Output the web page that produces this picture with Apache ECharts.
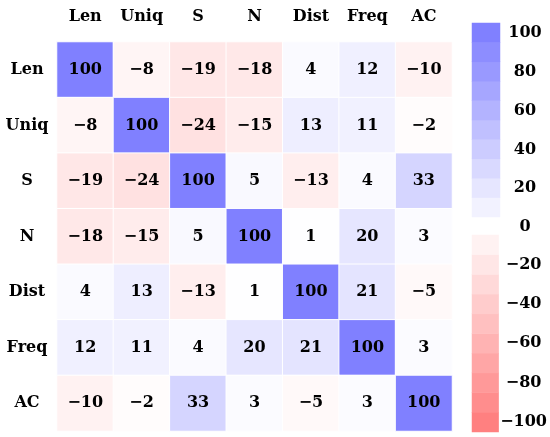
<!DOCTYPE html>
<html>
<head>
<meta charset="utf-8">
<style>
    html, body {margin: 0; padding: 0; background: #fff;}
    #main {width: 550px; height: 437px;}
</style>
<script src="https://cdn.jsdelivr.net/npm/echarts@6/dist/echarts.min.js"></script>
</head>
<body>
<div id="main"></div>
<script>
    // 变量名
    var names = ['Len', 'Uniq', 'S', 'N', 'Dist', 'Freq', 'AC'];
    // 相关系数 (x100)，按行
    var rowLen = [100, -8, -19, -18, 4, 12, -10];
    var rowUniq = [-8, 100, -24, -15, 13, 11, -2];
    var rowS = [-19, -24, 100, 5, -13, 4, 33];
    var rowN = [-18, -15, 5, 100, 1, 20, 3];
    var rowDist = [4, 13, -13, 1, 100, 21, -5];
    var rowFreq = [12, 11, 4, 20, 21, 100, 3];
    var rowAC = [-10, -2, 33, 3, -5, 3, 100];
    var matrix = [rowLen, rowUniq, rowS, rowN, rowDist, rowFreq, rowAC];
    // 色条分段
    var posBins = [10, 20, 30, 40, 50, 60, 70, 80, 90, 100];
    var negBins = [-100, -90, -80, -70, -60, -50, -40, -30, -20, -10];
    var posTicks = [0, 20, 40, 60, 80, 100];
    var negTicks = [-100, -80, -60, -40, -20, 0];

    var font = 'DejaVu Serif';
    var fontSize = 16;

    function fmt(v) {
        return v < 0 ? '\u2212' + Math.abs(v) : String(v);
    }

    var cells = [];
    matrix.forEach(function (row, r) {
        row.forEach(function (v, c) {
            cells.push([c, r, v]);
        });
    });

    var myChart = echarts.init(document.getElementById('main'));
    myChart.setOption({
        animation: false,
        grid: [
            {left: 57, top: 42, width: 395, height: 389},
            {left: 472, top: 23, width: 28, height: 194},
            {left: 472, top: 235, width: 28, height: 197}
        ],
        xAxis: [
            {
                type: 'category', gridIndex: 0, position: 'top', data: names,
                axisLine: {show: false}, axisTick: {show: false}, splitLine: {show: false},
                axisLabel: {margin: 17, color: '#000', fontFamily: font, fontWeight: 'bold', fontSize: fontSize}
            },
            {type: 'category', gridIndex: 1, data: ['c'], show: false},
            {type: 'category', gridIndex: 2, data: ['c'], show: false}
        ],
        yAxis: [
            {
                type: 'category', gridIndex: 0, data: names, inverse: true,
                axisLine: {show: false}, axisTick: {show: false}, splitLine: {show: false},
                axisLabel: {margin: 30, align: 'center', color: '#000', fontFamily: font, fontWeight: 'bold', fontSize: fontSize}
            },
            {type: 'category', gridIndex: 1, data: posBins, show: false},
            {type: 'category', gridIndex: 2, data: negBins, show: false},
            {
                type: 'value', gridIndex: 1, min: 0, max: 100, interval: 20, position: 'right',
                axisLine: {show: false}, axisTick: {show: false}, splitLine: {show: false},
                axisLabel: {
                    margin: 25, align: 'center', verticalAlign: 'top', padding: [2, 0, 0, 0],
                    color: '#000', fontFamily: font, fontWeight: 'bold', fontSize: fontSize,
                    formatter: fmt
                }
            },
            {
                type: 'value', gridIndex: 2, min: -100, max: 0, interval: 20, position: 'right',
                axisLine: {show: false}, axisTick: {show: false}, splitLine: {show: false},
                axisLabel: {
                    margin: 25, align: 'center', verticalAlign: 'bottom', padding: [0, 0, 2, 0],
                    color: '#000', fontFamily: font, fontWeight: 'bold', fontSize: fontSize,
                    formatter: function (v) {
                        return v === 0 ? '' : fmt(v);
                    }
                }
            }
        ],
        visualMap: {
            show: false,
            type: 'continuous',
            min: -100,
            max: 100,
            dimension: 2,
            seriesIndex: [0, 1, 2],
            inRange: {color: ['#ff8080', '#ffffff', '#8080ff']}
        },
        series: [
            {
                type: 'heatmap',
                xAxisIndex: 0,
                yAxisIndex: 0,
                data: cells,
                itemStyle: {borderColor: '#fff', borderWidth: 1},
                label: {
                    show: true,
                    color: '#000',
                    fontFamily: font,
                    fontWeight: 'bold',
                    fontSize: fontSize,
                    formatter: function (p) {
                        return fmt(p.value[2]);
                    }
                }
            },
            {
                type: 'heatmap',
                xAxisIndex: 1,
                yAxisIndex: 1,
                data: posBins.map(function (v, i) { return [0, i, v]; })
            },
            {
                type: 'heatmap',
                xAxisIndex: 2,
                yAxisIndex: 2,
                data: negBins.map(function (v, i) { return [0, i, v]; })
            }
        ]
    });
</script>
</body>
</html>
